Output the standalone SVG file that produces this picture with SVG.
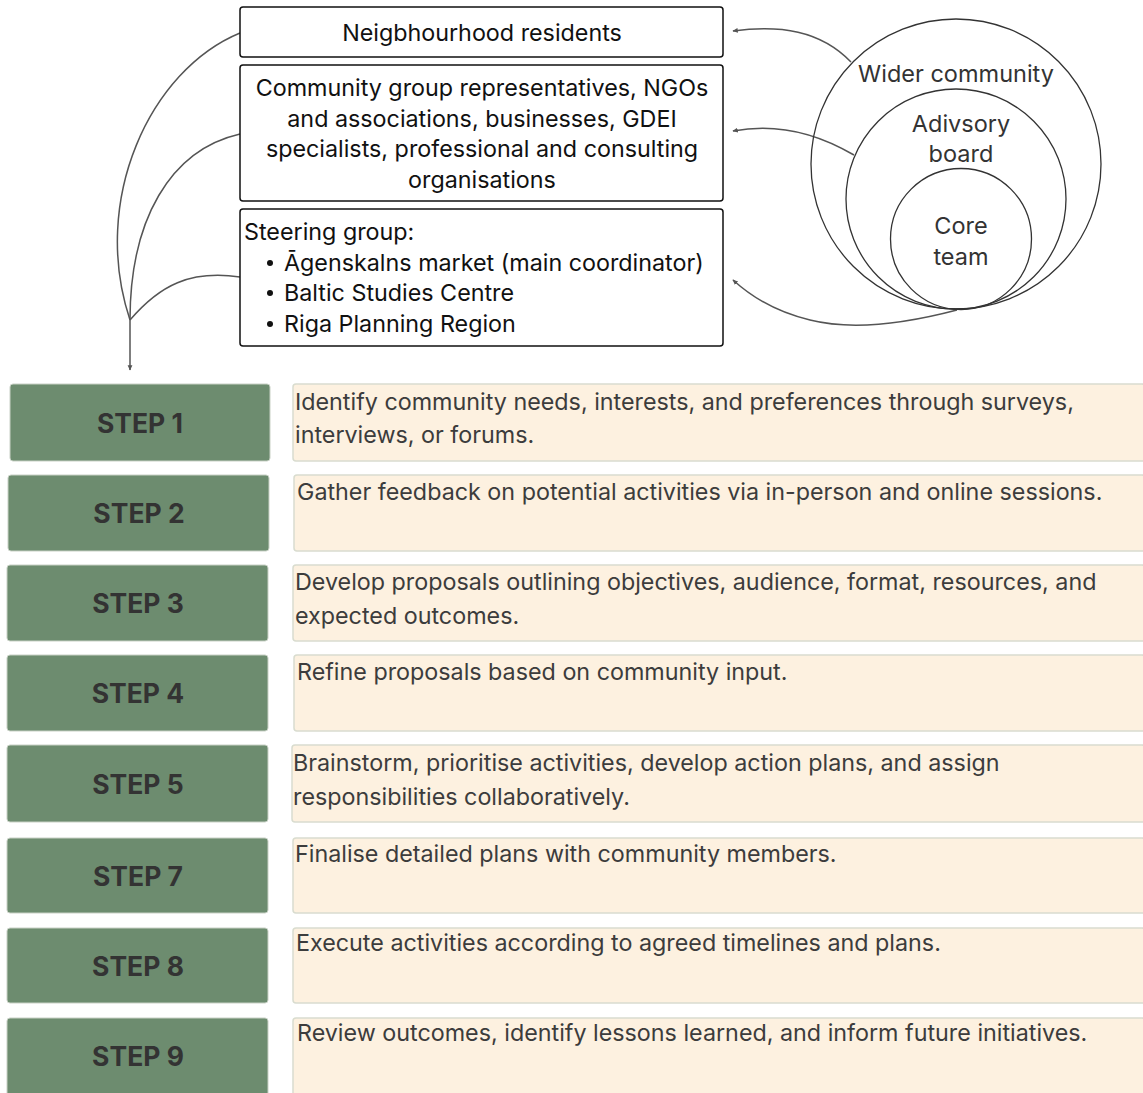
<svg xmlns="http://www.w3.org/2000/svg" width="1143" height="1093" viewBox="0 0 1143 1093">
<defs>
<style>
.box{fill:#fff;stroke:#111;stroke-width:1.5}
.t{font-family:Inter,"Liberation Sans",sans-serif;font-size:23.3px;fill:#111}
.c{text-anchor:middle}
.circ{fill:none;stroke:#333;stroke-width:1.3}
.ct{font-family:Inter,"Liberation Sans",sans-serif;font-size:23.5px;fill:#333;text-anchor:middle}
.con{fill:none;stroke:#555;stroke-width:1.5}
.step{fill:#6d8c6f;stroke:#c9d1c6;stroke-width:1}
.st{font-family:Inter,"Liberation Sans",sans-serif;font-size:26.5px;font-weight:bold;fill:#333;text-anchor:middle}
.desc{fill:#fdf1e0;stroke:#d9dccf;stroke-width:1.5}
.dt{font-family:Inter,"Liberation Sans",sans-serif;font-size:23.3px;fill:#3c3c3c}
</style>
<marker id="ah" viewBox="0 0 10 10" refX="8" refY="5" markerWidth="6" markerHeight="6" orient="auto-start-reverse" markerUnits="userSpaceOnUse">
<path d="M0,1 L9,5 L0,9 z" fill="#555"/>
</marker>
</defs>
<rect width="1143" height="1093" fill="#fff"/>

<g id="connectors">
<path class="con" d="M240,33 C150,70 90,200 130,320"/>
<path class="con" d="M240,134 C170,150 130,220 130,320"/>
<path class="con" d="M240,277 C190,270 160,285 130,320"/>
<path class="con" d="M130,320 L130,370" marker-end="url(#ah)"/>
<path class="con" d="M851,62 C820,30 780,25 733,31" marker-end="url(#ah)"/>
<path class="con" d="M854,155 C820,135 780,122 733,131" marker-end="url(#ah)"/>
<path class="con" d="M957,310 C900,325 850,330 810,320 C780,313 755,300 733,280" marker-end="url(#ah)"/>
</g>

<g id="node-residents">
<rect class="box" x="240" y="7" width="483" height="50" rx="3"/>
<text class="t c" x="482" y="41">Neigbhourhood residents</text>
</g>
<g id="node-community">
<rect class="box" x="240" y="65" width="483" height="136" rx="3"/>
<text class="t c" x="482" y="96">Community group representatives, NGOs</text>
<text class="t c" x="482" y="127">and associations, businesses, GDEI</text>
<text class="t c" x="482" y="157">specialists, professional and consulting</text>
<text class="t c" x="482" y="188">organisations</text>
</g>
<g id="node-steering">
<rect class="box" x="240" y="209" width="483" height="137" rx="3"/>
<text class="t" x="244" y="240">Steering group:</text>
<circle cx="270" cy="263" r="3" fill="#111"/>
<text class="t" x="284" y="271">Āgenskalns market (main coordinator)</text>
<circle cx="270" cy="293" r="3" fill="#111"/>
<text class="t" x="284" y="301">Baltic Studies Centre</text>
<circle cx="270" cy="324" r="3" fill="#111"/>
<text class="t" x="284" y="332">Riga Planning Region</text>
</g>

<g id="node-circles">
<circle class="circ" cx="956" cy="164" r="145"/>
<circle class="circ" cx="956" cy="199" r="110"/>
<circle class="circ" cx="961" cy="239" r="70.5"/>
<text class="ct" x="956" y="82">Wider community</text>
<text class="ct" x="961" y="132">Adivsory</text>
<text class="ct" x="961" y="162">board</text>
<text class="ct" x="961" y="234">Core</text>
<text class="ct" x="961" y="265">team</text>
</g>

<g id="step1">
<rect class="step" x="10" y="384" width="260" height="77" rx="3"/>
<text class="st" x="140" y="433">STEP 1</text>
<rect class="desc" x="293" y="384" width="852" height="77" rx="3"/>
<text class="dt" x="295" y="410">Identify community needs, interests, and preferences through surveys,</text>
<text class="dt" x="295" y="443">interviews, or forums.</text>
</g>
<g id="step2">
<rect class="step" x="8" y="475" width="261" height="76" rx="3"/>
<text class="st" x="139" y="523">STEP 2</text>
<rect class="desc" x="294" y="475" width="851" height="76" rx="3"/>
<text class="dt" x="297" y="500">Gather feedback on potential activities via in-person and online sessions.</text>
</g>
<g id="step3">
<rect class="step" x="7" y="565" width="261" height="76" rx="3"/>
<text class="st" x="138" y="613">STEP 3</text>
<rect class="desc" x="293" y="565" width="852" height="76" rx="3"/>
<text class="dt" x="295" y="590">Develop proposals outlining objectives, audience, format, resources, and</text>
<text class="dt" x="295" y="624">expected outcomes.</text>
</g>
<g id="step4">
<rect class="step" x="7" y="655" width="261" height="76" rx="3"/>
<text class="st" x="138" y="703">STEP 4</text>
<rect class="desc" x="294" y="655" width="851" height="76" rx="3"/>
<text class="dt" x="297" y="680">Refine proposals based on community input.</text>
</g>
<g id="step5">
<rect class="step" x="7" y="745" width="261" height="77" rx="3"/>
<text class="st" x="138" y="794">STEP 5</text>
<rect class="desc" x="292" y="745" width="853" height="77" rx="3"/>
<text class="dt" x="293" y="771">Brainstorm, prioritise activities, develop action plans, and assign</text>
<text class="dt" x="293" y="805">responsibilities collaboratively.</text>
</g>
<g id="step7">
<rect class="step" x="7" y="838" width="261" height="75" rx="3"/>
<text class="st" x="138" y="886">STEP 7</text>
<rect class="desc" x="293" y="838" width="852" height="75" rx="3"/>
<text class="dt" x="295" y="862">Finalise detailed plans with community members.</text>
</g>
<g id="step8">
<rect class="step" x="7" y="928" width="261" height="75" rx="3"/>
<text class="st" x="138" y="976">STEP 8</text>
<rect class="desc" x="293" y="928" width="852" height="75" rx="3"/>
<text class="dt" x="296" y="951">Execute activities according to agreed timelines and plans.</text>
</g>
<g id="step9">
<rect class="step" x="7" y="1018" width="261" height="80" rx="3"/>
<text class="st" x="138" y="1066">STEP 9</text>
<rect class="desc" x="293" y="1018" width="852" height="80" rx="3"/>
<text class="dt" x="297" y="1041">Review outcomes, identify lessons learned, and inform future initiatives.</text>
</g>
</svg>
